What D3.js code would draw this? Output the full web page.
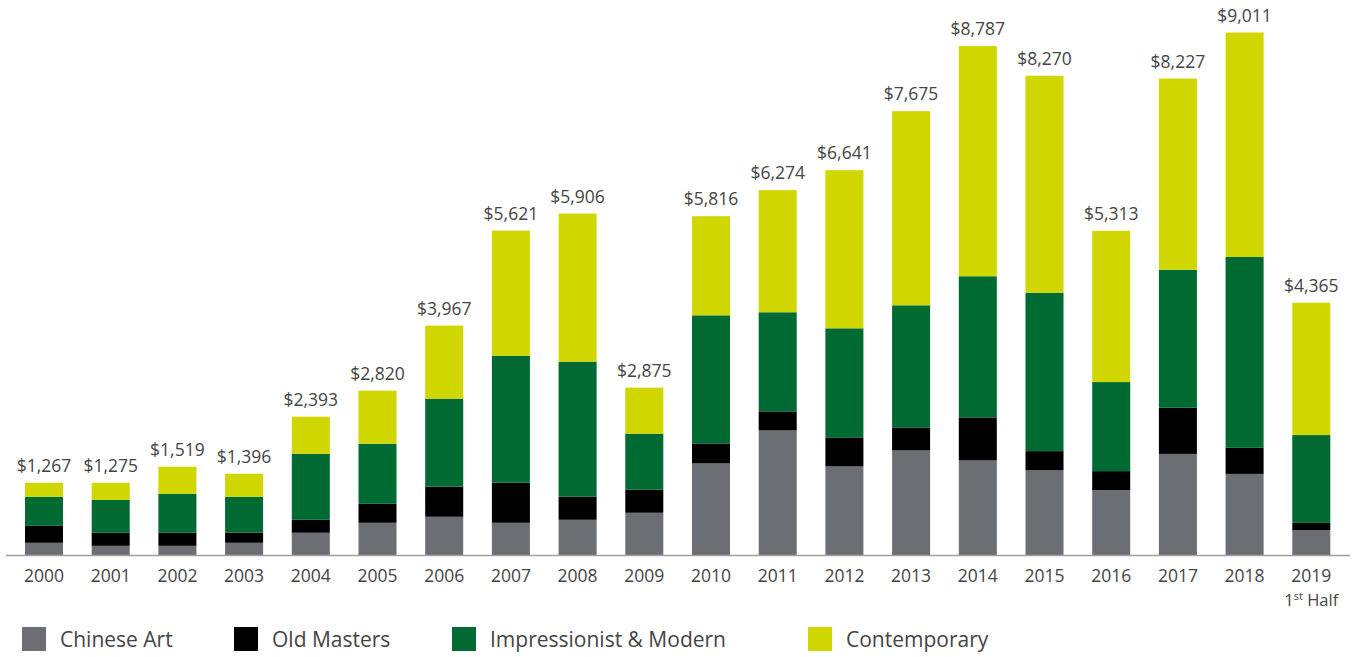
<!DOCTYPE html>
<html lang="en">
<head>
  <meta charset="UTF-8">
  <title>Auction sales by category</title>
  <script src="https://d3js.org/d3.v7.min.js"></script>
  <style>
    body { margin: 0; background: #fff; }
    svg text { font-family: "Open Sans", "Noto Sans", sans-serif; fill: #444; }
  </style>
</head>
<body>
  <svg id="chart" width="1355" height="657"></svg>
  <script>
    // data
    var years = ["2000", "2001", "2002", "2003", "2004", "2005", "2006", "2007", "2008", "2009",
      "2010", "2011", "2012", "2013", "2014", "2015", "2016", "2017", "2018", "2019"];
    var totals = ["$1,267", "$1,275", "$1,519", "$1,396", "$2,393", "$2,820", "$3,967", "$5,621", "$5,906", "$2,875",
      "$5,816", "$6,274", "$6,641", "$7,675", "$8,787", "$8,270", "$5,313", "$8,227", "$9,011", "$4,365"];
    var chineseArt = [219, 167, 167, 219, 392, 564, 668, 564, 616, 737, 1588, 2158, 1536, 1812, 1640, 1474, 1129, 1752, 1407, 438];
    var oldMasters = [293, 224, 224, 173, 224, 328, 518, 690, 397, 397, 345, 328, 501, 397, 742, 326, 326, 796, 450, 124];
    var impressionist = [500, 570, 673, 621, 1139, 1036, 1519, 2192, 2330, 967, 2209, 1709, 1881, 2106, 2434, 2732, 1536, 2380, 3291, 1515];
    var contemporary = [242, 293, 466, 397, 639, 915, 1260, 2158, 2554, 794, 1709, 2106, 2727, 3348, 3970, 3742, 2608, 3298, 3871, 2282];

    var seriesNames = ["Chinese Art", "Old Masters", "Impressionist & Modern", "Contemporary"];
    var colors = ["#6b6e72", "#000000", "#006a33", "#cfd600"];

    var rows = years.map(function (y, i) {
      return {
        year: y,
        "Chinese Art": chineseArt[i],
        "Old Masters": oldMasters[i],
        "Impressionist & Modern": impressionist[i],
        "Contemporary": contemporary[i]
      };
    });

    var svg = d3.select("#chart");
    var baseY = 555.5;

    var x = d3.scaleBand().domain(years).range([10.65, 1344.65])
      .paddingInner(0.43).paddingOuter(0.215);
    var y = d3.scaleLinear().domain([0, 9011]).range([baseY, 33]);
    var color = d3.scaleOrdinal().domain(seriesNames).range(colors);

    var stacked = d3.stack().keys(seriesNames)(rows);

    svg.append("g")
      .selectAll("g")
      .data(stacked)
      .enter()
      .append("g")
      .attr("fill", function (d) { return color(d.key); })
      .selectAll("rect")
      .data(function (d) { return d; })
      .enter()
      .append("rect")
      .attr("x", function (d) { return x(d.data.year); })
      .attr("y", function (d) { return y(d[1]); })
      .attr("width", x.bandwidth())
      .attr("height", function (d) { return y(d[0]) - y(d[1]); });

    // total labels above bars
    var topLayer = stacked[stacked.length - 1];
    svg.append("g")
      .selectAll("text")
      .data(topLayer)
      .enter()
      .append("text")
      .attr("x", function (d) { return x(d.data.year) + x.bandwidth() / 2; })
      .attr("y", function (d) { return y(d[1]) - 11; })
      .attr("text-anchor", "middle")
      .style("font-size", "17.5px")
      .text(function (d, i) { return totals[i]; });

    // x axis
    var axis = svg.append("g")
      .attr("transform", "translate(0," + baseY + ")")
      .call(d3.axisBottom(x).tickSize(0).tickPadding(14));
    axis.select(".domain").attr("d", "M6,0H1350").attr("stroke", "#a0a0a0").attr("stroke-width", 1.5);
    axis.selectAll(".tick text")
      .style("font-size", "17.5px")
      .style("font-family", "'Open Sans', sans-serif")
      .attr("fill", "#444");

    // "1st Half" under the last year
    var half = svg.append("text")
      .attr("x", x("2019") + x.bandwidth() / 2)
      .attr("y", 606)
      .attr("text-anchor", "middle")
      .style("font-size", "16.5px");
    half.append("tspan").text("1");
    half.append("tspan").attr("dy", -6).style("font-size", "11px").text("st");
    half.append("tspan").attr("dy", 6).text(" Half");

    // legend
    var legendX = [22, 234, 452, 808];
    var legend = svg.append("g")
      .selectAll("g")
      .data(seriesNames)
      .enter()
      .append("g")
      .attr("transform", function (d, i) { return "translate(" + legendX[i] + ",627)"; });
    legend.append("rect")
      .attr("width", 24)
      .attr("height", 24)
      .attr("fill", function (d) { return color(d); });
    legend.append("text")
      .attr("x", 38)
      .attr("y", 20)
      .style("font-size", "21px")
      .text(function (d) { return d; });
  </script>
</body>
</html>
